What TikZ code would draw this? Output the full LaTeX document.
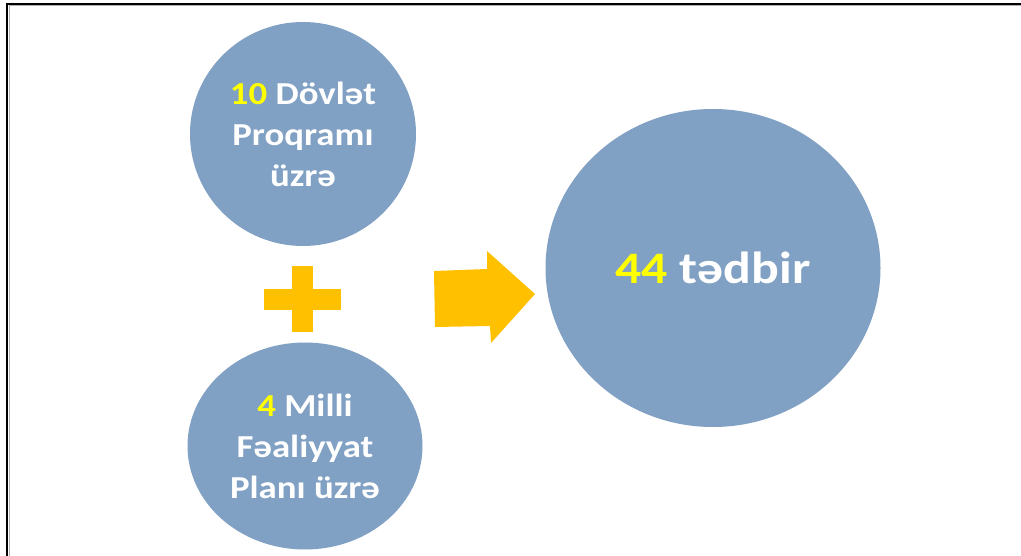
\documentclass[tikz,border=0pt]{standalone}
\usepackage{fontspec}
\setmainfont{Carlito}[FakeStretch=1.15]
\usetikzlibrary{shapes.geometric}
\definecolor{discblue}{RGB}{128,160,196}
\definecolor{signgold}{RGB}{255,192,0}
\definecolor{numyellow}{RGB}{255,255,0}
\newcommand{\num}[1]{\textcolor{numyellow}{#1}}
\begin{document}
\begin{tikzpicture}[x=1pt,y=-1pt,
  disc/.style={ellipse,fill=discblue,text=white,inner sep=0pt,align=center,
    font=\fontsize{32}{41}\selectfont\bfseries},
  sign/.style={fill=signgold,draw=none}]

  \useasboundingbox (0,0) rectangle (1021,556);
  \fill[white] (0,0) rectangle (1021,556);

  % frame
  \draw[gray!60,line width=1pt] (9,556) -- (9,6) -- (1021,6);
  \draw[black,line width=2pt] (7,556) -- (7,4) -- (1021,4);

  \node[disc,minimum width=226,minimum height=224] (prog) at (303,134)
    {\num{10} Dövlət\\Proqramı\\üzrə};
  \node[disc,minimum width=235,minimum height=207] (plan) at (305,446)
    {\num{4} Milli\\Fəaliyyat\\Planı üzrə};
  \node[disc,minimum width=335,minimum height=318,
    font=\fontsize{45}{54}\selectfont\bfseries] (total) at (713,268)
    {\num{44} tədbir};

  % plus sign
  \fill[sign] (292,266) rectangle (313,332);
  \fill[sign] (264,289) rectangle (341,310);

  % block arrow
  \fill[sign] (434,271) -- (487,269) -- (487,251) -- (535,294)
    -- (491,343) -- (490,326) -- (435,327) -- cycle;
\end{tikzpicture}
\end{document}
